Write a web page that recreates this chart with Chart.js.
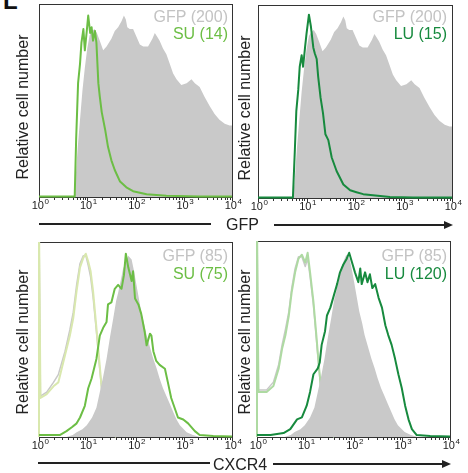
<!DOCTYPE html>
<html><head><meta charset="utf-8">
<script src="https://cdn.jsdelivr.net/npm/chart.js@4"></script>
<style>
body{margin:0;width:468px;height:473px;position:relative;background:#fff;overflow:hidden;font-family:"Liberation Sans",Arial,sans-serif;}
canvas{position:absolute;}
.t{position:absolute;font-size:16px;line-height:16px;white-space:nowrap;}
.r{text-align:right;width:120px;}
.yt{position:absolute;width:200px;height:16px;font-size:16px;line-height:16px;text-align:center;color:#222;transform:rotate(-90deg);white-space:nowrap;}
.ln{position:absolute;height:2px;background:#222;}
.ah{position:absolute;width:0;height:0;border-left:9px solid #222;border-top:4px solid transparent;border-bottom:4px solid transparent;}
</style></head><body>
<div class="t" style="left:3px;top:-11px;font-size:24px;line-height:24px;font-weight:bold;color:#111;">L</div>

<canvas id="c1" width="242" height="220" style="left:0;top:0"></canvas>
<canvas id="c2" width="232" height="221" style="left:230px;top:0"></canvas>
<canvas id="c3" width="242" height="224" style="left:0;top:236px"></canvas>
<canvas id="c4" width="232" height="224" style="left:228px;top:236px"></canvas>

<div class="t r" style="left:108px;top:9px;color:#c3c3c3">GFP (200)</div>
<div class="t r" style="left:108px;top:26px;color:#6cbe45">SU (14)</div>
<div class="t r" style="left:327px;top:9px;color:#c3c3c3">GFP (200)</div>
<div class="t r" style="left:327px;top:26px;color:#178a3e">LU (15)</div>
<div class="t r" style="left:108px;top:248px;color:#c3c3c3">GFP (85)</div>
<div class="t r" style="left:108px;top:266px;color:#6cbe45">SU (75)</div>
<div class="t r" style="left:327px;top:248px;color:#c3c3c3">GFP (85)</div>
<div class="t r" style="left:327px;top:266px;color:#178a3e">LU (120)</div>

<div class="yt" style="left:-77px;top:99px">Relative cell number</div>
<div class="yt" style="left:145px;top:100px">Relative cell number</div>
<div class="yt" style="left:-77px;top:334px">Relative cell number</div>
<div class="yt" style="left:145px;top:334px">Relative cell number</div>

<div class="ln" style="left:39px;top:223px;width:172px"></div>
<div class="t" style="left:226px;top:217px;color:#222">GFP</div>
<div class="ln" style="left:274px;top:224px;width:172px"></div>
<div class="ah" style="left:444px;top:221px"></div>

<div class="ln" style="left:38px;top:462px;width:172px"></div>
<div class="t" style="left:213px;top:457px;color:#222">CXCR4</div>
<div class="ln" style="left:273px;top:463px;width:170px"></div>
<div class="ah" style="left:442px;top:460px"></div>

<script>
// ---- axis ----
const tickBase = '10';
const tickExponents = ['0', '1', '2', '3', '4'];
const majorValues = [1, 10, 100, 1000, 10000];

// ---- GFP panels (top row), x given as log10 of intensity, y as % of plot height ----
const gfp200Log = [0.72,0.76,0.80,0.85,0.90,0.95,1.00,1.05,1.10,1.15,1.20,1.26,1.33,1.40,1.50,1.57,1.64,1.71,1.76,1.80,1.83,1.88,1.95,2.02,2.09,2.16,2.26,2.35,2.40,2.45,2.50,2.57,2.64,2.71,2.78,2.85,2.95,3.06,3.16,3.23,3.33,3.43,3.54,3.64,3.74,3.85,3.95,4.00];
const gfp200Y   = [0,10,25,40,55,67,77,84,86,87,85,81,76,78,82,86,88,91,94,92,88,87,87,83,79,78,78,82,85,83,81,77,74,69,64,61,58,59,61,59,57,52,47,43,40,38,37,37];

const su14Log = [0,0.74,0.77,0.81,0.85,0.88,0.92,0.95,0.99,1.02,1.06,1.09,1.12,1.16,1.19,1.23,1.26,1.30,1.37,1.43,1.50,1.57,1.68,1.81,1.95,2.23,2.64,3.33,4.0];
const su14Y   = [0.3,0.3,30,59,69,80,87,76,86,94,85,88,81,86,80,59,52,44,35,26,19,14,8,5,3,1.4,0.6,0.3,0.3];

const lu15Log = [0,0.72,0.76,0.79,0.83,0.86,0.90,0.93,0.97,1.00,1.05,1.09,1.14,1.17,1.21,1.24,1.29,1.34,1.39,1.45,1.52,1.62,1.76,1.90,2.03,2.17,2.52,2.72,3.2,4.0];
const lu15Y   = [0.3,0.3,25,45,56,68,74,68,78,85,95,89,78,75,72,63,52,44,33,30,21,14,7,4,3,2,1,0.5,0.3,0.3];

// ---- CXCR4 panels (bottom row) ----
const gfp85Log = [0.57,0.70,0.78,0.90,0.99,1.10,1.19,1.26,1.33,1.40,1.47,1.54,1.60,1.64,1.70,1.74,1.80,1.85,1.92,1.97,2.02,2.07,2.12,2.18,2.23,2.30,2.37,2.44,2.50,2.57,2.64,2.71,2.78,2.85,2.92,3.06,3.19,3.33];
const gfp85Y   = [0,1,2.5,4,6,10,15,23,31,40,51,61,70,74,81,86,90,93,91,85,78,71,64,58,52,46,40,35,30,25,21,17,13,9,6,2.5,1,0];

const su75Log = [0,0.09,0.43,0.57,0.68,0.78,0.85,0.95,1.02,1.09,1.19,1.26,1.33,1.40,1.43,1.50,1.57,1.64,1.71,1.76,1.80,1.85,1.92,1.95,1.99,2.06,2.12,2.19,2.23,2.30,2.33,2.37,2.43,2.50,2.61,2.68,2.74,2.81,2.88,2.99,3.09,3.23,3.33,3.61,4.0];
const su75Y   = [1,1,1,3,5,7,10,16,25,30,40,52,56,59,68,69,76,78,76,83,94,87,80,85,71,68,63,54,47,53,52,44,39,37,35,27,20,15,10,9,7,3,1,0.5,0.3];

const lu120Log = [0,0.28,0.55,0.69,0.83,0.93,1.03,1.10,1.17,1.26,1.30,1.34,1.41,1.45,1.52,1.59,1.66,1.72,1.79,1.86,1.91,1.97,2.03,2.10,2.14,2.17,2.24,2.29,2.34,2.39,2.45,2.52,2.59,2.66,2.72,2.79,2.86,2.93,3.00,3.07,3.14,3.21,3.31,3.59,4.0];
const lu120Y   = [1,1,2,4,9,10,16,23,32,35,38,47,54,62,66,72,78,84,88,91,94,89,84,79,86,78,84,79,83,76,78,71,66,57,52,47,40,32,25,16,9,4,1,0.5,0.3];

// unstained controls
const ctrl3Log   = [0,0,0.03,0.16,0.30,0.40,0.47,0.54,0.64,0.71,0.78,0.85,0.92,0.97,1.02,1.07,1.12,1.19,1.25,1.30,1.36,1.45,1.60];
const ctrlSU3Y   = [0,110,20,22,26,28,35,42,52,61,75,87,92,94,90,85,75,56,39,25,11,3,0];
const ctrlGray3Y = [0,110,21,23,28,32,38,44,55,64,78,89,93,93,88,82,72,54,37,24,10,3,0];

const ctrl4Log   = [0,0,0.03,0.20,0.34,0.45,0.52,0.59,0.66,0.72,0.79,0.86,0.93,1.00,1.05,1.10,1.17,1.23,1.28,1.34,1.40,1.50,1.60];
const ctrlLU4Y   = [0,110,23,23,26,35,45,52,62,74,84,91,93,89,94,84,69,52,37,21,9,3,0];
const ctrlGray4Y = [0,110,24,24,28,37,47,55,64,76,86,92,92,87,91,82,67,50,36,20,9,3,0];

// ---- colours ----
const SU_GREEN = '#6cbe45', LU_GREEN = '#178a3e', GRAY_FILL = '#c9c9c9';
const PALE_SU = '#d9e8ae', PALE_LU = '#aedaa2', PALE_GRAY = '#c8c8c8';

function pts(logs, ys) { return logs.map((l, i) => ({ x: Math.pow(10, l), y: ys[i] })); }

const tickValues = [];
for (let e = 0; e < 4; e++) for (let m = 1; m <= 9; m++) tickValues.push(m * Math.pow(10, e));
tickValues.push(10000);

const clip = { left: 2, top: 0, right: 0, bottom: 2 };
function fillDs(data) { return { data, fill: 'origin', backgroundColor: GRAY_FILL, borderWidth: 0, borderColor: GRAY_FILL, pointRadius: 0, order: 1, clip }; }
function lineDs(data, color, order, w) { return { data, fill: false, borderColor: color, borderWidth: w, pointRadius: 0, order, clip, borderJoinStyle: 'round' }; }

const FONT = 'Liberation Sans, Arial, sans-serif';
const framePlugin = {
  id: 'frame',
  beforeDatasetsDraw(chart) {
    const { ctx, chartArea: a } = chart;
    ctx.save(); ctx.strokeStyle = '#333'; ctx.lineWidth = 1;
    ctx.strokeRect(a.left + 0.5, a.top + 0.5, a.right - a.left, a.bottom - a.top);
    ctx.restore();
  },
  afterDraw(chart) {
    const { ctx, chartArea: a } = chart; const s = chart.scales.x;
    ctx.save(); ctx.strokeStyle = '#333'; ctx.lineWidth = 1; ctx.beginPath();
    s.ticks.forEach(t => {
      const x = Math.round(s.getPixelForValue(t.value)) + 0.5;
      ctx.moveTo(x, a.bottom + 1); ctx.lineTo(x, a.bottom + (t.major ? 4 : 3));
    });
    ctx.stroke();
    // tick labels with superscript exponents
    ctx.fillStyle = '#222'; ctx.textBaseline = 'alphabetic'; ctx.textAlign = 'left';
    majorValues.forEach((v, i) => {
      const x = s.getPixelForValue(v);
      ctx.font = '11px ' + FONT; const wb = ctx.measureText(tickBase).width;
      ctx.font = '8px ' + FONT; const we = ctx.measureText(tickExponents[i]).width;
      const x0 = x - (wb + we) / 2 + 1;
      ctx.font = '11px ' + FONT; ctx.fillText(tickBase, x0, a.bottom + 12);
      ctx.font = '8px ' + FONT; ctx.fillText(tickExponents[i], x0 + wb + 0.5, a.bottom + 7);
    });
    ctx.restore();
  }
};

function makePanel(id, datasets, pad) {
  new Chart(document.getElementById(id), {
    type: 'line',
    data: { datasets },
    options: {
      responsive: false, animation: false, devicePixelRatio: 1,
      layout: { padding: { left: pad.left, right: pad.right, top: pad.top, bottom: 0 } },
      plugins: { legend: { display: false }, tooltip: { enabled: false } },
      elements: { line: { tension: 0 } },
      scales: {
        x: {
          type: 'logarithmic', min: 1, max: 10000,
          afterBuildTicks: s => { s.ticks = tickValues.map(v => ({ value: v, major: majorValues.includes(v) })); },
          afterFit: s => { s.height = 23; },
          grid: { display: false }, border: { display: false },
          ticks: { display: false, autoSkip: false, maxRotation: 0 }
        },
        y: { display: false, min: 0, max: 100 }
      }
    },
    plugins: [framePlugin]
  });
}

makePanel('c1', [
  lineDs(pts(su14Log, su14Y), SU_GREEN, 0, 2),
  fillDs(pts(gfp200Log, gfp200Y))
], { left: 39, right: 10, top: 4 });

makePanel('c2', [
  lineDs(pts(lu15Log, lu15Y), LU_GREEN, 0, 2),
  fillDs(pts(gfp200Log, gfp200Y))
], { left: 28, right: 10, top: 5 });

makePanel('c3', [
  lineDs(pts(su75Log, su75Y), SU_GREEN, 0, 2),
  fillDs(pts(gfp85Log, gfp85Y)),
  lineDs(pts(ctrl3Log, ctrlSU3Y), PALE_SU, 2, 2),
  lineDs(pts(ctrl3Log, ctrlGray3Y), PALE_GRAY, 3, 1.5)
], { left: 39, right: 10, top: 6 });

makePanel('c4', [
  lineDs(pts(lu120Log, lu120Y), LU_GREEN, 0, 2),
  fillDs(pts(gfp85Log, gfp85Y)),
  lineDs(pts(ctrl4Log, ctrlLU4Y), PALE_LU, 2, 2),
  lineDs(pts(ctrl4Log, ctrlGray4Y), PALE_GRAY, 3, 1.5)
], { left: 29, right: 10, top: 5 });
</script>
</body></html>
